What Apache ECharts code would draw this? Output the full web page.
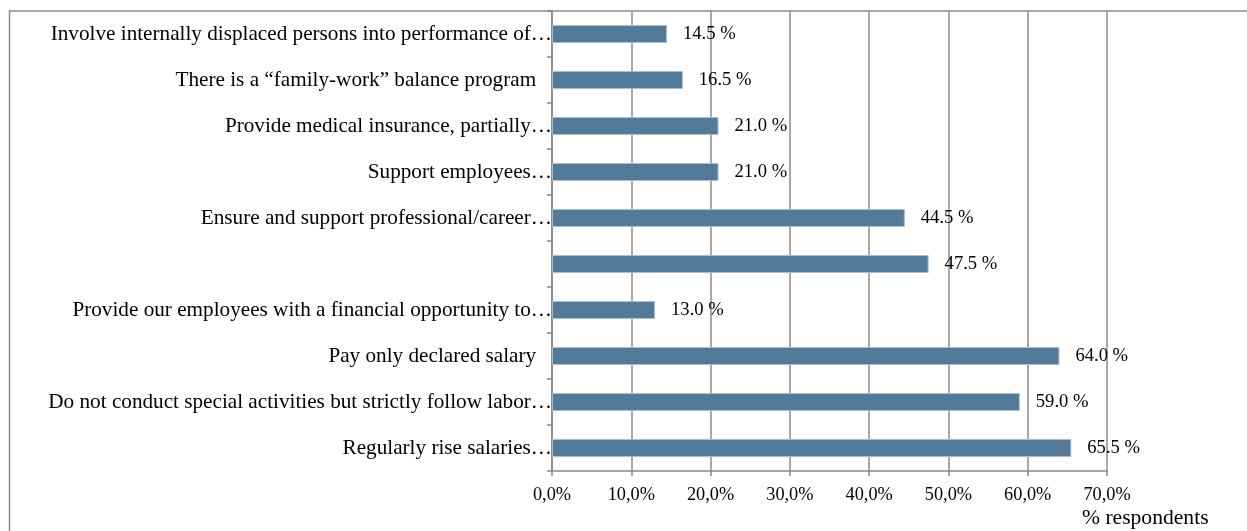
<!DOCTYPE html>
<html>
<head>
<meta charset="utf-8">
<script src="https://cdn.jsdelivr.net/npm/echarts@6/dist/echarts.min.js"></script>
<style>html,body{margin:0;padding:0;background:#fff;}#c{width:1247px;height:531px;}</style>
</head>
<body>
<div id="c"></div>
<script>
var categories = [
  'Involve internally displaced persons into performance of\u2026',
  'There is a \u201cfamily-work\u201d balance program\u00a0\u00a0\u00a0',
  'Provide medical insurance, partially\u2026',
  'Support employees\u2026',
  'Ensure and support professional/career\u2026',
  '',
  'Provide our employees with a financial opportunity to\u2026',
  'Pay only declared salary\u00a0\u00a0\u00a0',
  'Do not conduct special activities but strictly follow labor\u2026',
  'Regularly rise salaries\u2026'
];
var values = [14.5, 16.5, 21.0, 21.0, 44.5, 47.5, 13.0, 64.0, 59.0, 65.5];
var xTicks = [0, 10, 20, 30, 40, 50, 60, 70];
var axisTitle = '% respondents';

var font = '"Liberation Serif", "DejaVu Serif", serif';
var chart = echarts.init(document.getElementById('c'), null, {renderer: 'canvas'});
chart.setOption({
  animation: false,
  backgroundColor: '#ffffff',
  grid: {left: 552, right: 140, top: 11, bottom: 60, containLabel: false},
  xAxis: {
    type: 'value', min: xTicks[0], max: xTicks[xTicks.length - 1], interval: 10,
    axisLine: {show: true, lineStyle: {color: '#888', width: 1.5}},
    axisTick: {show: true, length: 5, lineStyle: {color: '#888', width: 1.5}},
    splitLine: {show: true, lineStyle: {color: '#8c8c8c', width: 1.5}},
    axisLabel: {
      margin: 15, color: '#000', fontFamily: font, fontSize: 18.3,
      formatter: function (v) { return v.toFixed(1).replace('.', ',') + '%'; }
    }
  },
  yAxis: {
    type: 'category', data: categories, inverse: true,
    axisLine: {show: true, lineStyle: {color: '#888', width: 1.5}},
    axisTick: {show: true, length: 5, inside: false, lineStyle: {color: '#888', width: 1.5}},
    axisLabel: {margin: 0, color: '#000', fontFamily: font, fontSize: 21.2}
  },
  graphic: [
    {type: 'rect', shape: {x: 9.5, y: 11, width: 1400, height: 700},
     style: {fill: 'none', stroke: '#8c8c8c', lineWidth: 1.5}, silent: true, z: -1},
    {type: 'text', left: 1082, top: 507,
     style: {text: axisTitle, fill: '#000', font: '21.6px ' + font}}
  ],
  series: [{
    type: 'bar', data: values, barWidth: 18,
    itemStyle: {color: '#517b99', borderColor: '#a9bcd3', borderWidth: 1},
    label: {
      show: true, position: 'right', distance: 16, color: '#000',
      fontFamily: font, fontSize: 18.6,
      formatter: function (p) { return p.value.toFixed(1) + ' %'; }
    }
  }]
});
</script>
</body>
</html>
